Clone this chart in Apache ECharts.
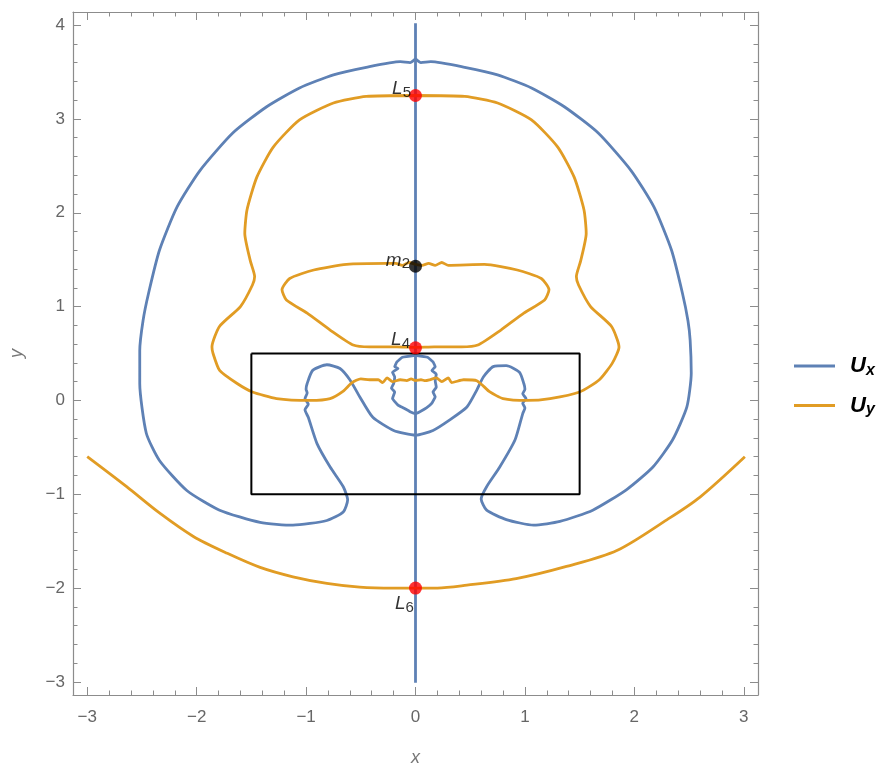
<!DOCTYPE html>
<html>
<head>
<meta charset="utf-8">
<script src="https://cdn.jsdelivr.net/npm/echarts@6/dist/echarts.min.js"></script>
<style>
html,body{margin:0;padding:0;background:#fff;}
#chart{width:882px;height:765px;}
</style>
</head>
<body>
<div id="chart"></div>
<script>
// ---- Data ----
const xRange = [-3.13, 3.13];
const yRange = [-3.14, 4.14];

// Ux: vertical line x = 0
const uxVertX = [0, 0];
const uxVertY = [-3.01, 4.02];

// Ux: big outer closed contour (left half top->bottom, then right half bottom->top)
const uxOuterX = [0, -0.05, -0.14, -0.45, -0.75, -1.06, -1.36, -1.67, -1.97, -2.18, -2.34, -2.44, -2.49, -2.52, -2.52, -2.46, -2.34, -2.09, -1.79, -1.42, -1.12, -0.81, -0.66, -0.62, -0.66, -0.78, -0.90, -0.98, -1.01, -0.98, -1.01, -0.99, -1.00, -0.99, -0.94, -0.81, -0.69, -0.60, -0.51, -0.39, -0.20, 0,
  0.16, 0.31, 0.47, 0.56, 0.62, 0.71, 0.83, 0.95, 0.99, 1.00, 0.98, 1.01, 0.98, 1.00, 0.98, 0.91, 0.77, 0.65, 0.60, 0.65, 0.83, 1.08, 1.32, 1.62, 1.93, 2.17, 2.35, 2.48, 2.52, 2.51, 2.49, 2.44, 2.34, 2.18, 1.97, 1.67, 1.36, 1.06, 0.75, 0.45, 0.14, 0.05, 0];
const uxOuterY = [3.64, 3.60, 3.61, 3.55, 3.47, 3.33, 3.13, 2.85, 2.45, 2.06, 1.60, 1.14, 0.85, 0.53, 0.18, -0.35, -0.64, -0.96, -1.17, -1.30, -1.33, -1.28, -1.19, -1.06, -0.92, -0.71, -0.46, -0.18, -0.10, -0.04, 0.02, 0.08, 0.12, 0.18, 0.32, 0.38, 0.34, 0.22, 0.04, -0.18, -0.32, -0.37,
  -0.32, -0.21, -0.07, 0.11, 0.25, 0.36, 0.37, 0.30, 0.18, 0.12, 0.07, 0.02, -0.03, -0.08, -0.14, -0.42, -0.71, -0.92, -1.05, -1.17, -1.27, -1.33, -1.29, -1.17, -0.95, -0.71, -0.42, -0.07, 0.29, 0.64, 0.85, 1.14, 1.60, 2.06, 2.45, 2.85, 3.13, 3.33, 3.47, 3.55, 3.61, 3.60, 3.64];

// Ux: small jagged inner loop around the axis
const uxInnerX = [0, -0.12, -0.17, -0.19, -0.16, -0.21, -0.19, -0.20, -0.22, -0.19, -0.21, -0.16, -0.11, -0.05, 0, 0.04, 0.10, 0.15, 0.18, 0.16, 0.19, 0.18, 0.19, 0.15, 0.18, 0.16, 0.11, 0];
const uxInnerY = [0.48, 0.46, 0.41, 0.36, 0.34, 0.30, 0.25, 0.18, 0.13, 0.09, 0.02, -0.05, -0.08, -0.12, -0.14, -0.12, -0.08, -0.03, 0.04, 0.09, 0.14, 0.21, 0.28, 0.32, 0.36, 0.41, 0.46, 0.48];

// Uy: outer "mushroom" closed contour through L5
const uyOuterX = [0, -0.45, -0.75, -1.06, -1.30, -1.45, -1.54, -1.56, -1.51, -1.47, -1.49, -1.60, -1.79, -1.86, -1.85, -1.79, -1.63, -1.49, -1.27, -0.96, -0.78, -0.66, -0.58, -0.50, -0.42, -0.34, -0.30, -0.26, -0.21, -0.14, -0.08, -0.04, 0, 0.05, 0.09, 0.13, 0.19, 0.24, 0.30, 0.33, 0.44, 0.56, 0.68, 0.80, 1.02, 1.23, 1.50, 1.68, 1.80, 1.86, 1.79, 1.60, 1.49, 1.47, 1.51, 1.56, 1.54, 1.45, 1.30, 1.06, 0.75, 0.45, 0];
const uyOuterY = [3.25, 3.24, 3.17, 2.99, 2.70, 2.38, 2.03, 1.78, 1.49, 1.32, 1.23, 1.00, 0.79, 0.57, 0.50, 0.32, 0.18, 0.09, 0.02, 0.00, 0.02, 0.10, 0.19, 0.23, 0.22, 0.22, 0.19, 0.24, 0.20, 0.22, 0.21, 0.23, 0.21, 0.22, 0.21, 0.22, 0.24, 0.20, 0.24, 0.19, 0.22, 0.21, 0.09, 0.02, 0.00, 0.02, 0.09, 0.22, 0.40, 0.57, 0.79, 1.00, 1.23, 1.32, 1.49, 1.78, 2.03, 2.38, 2.70, 2.99, 3.17, 3.24, 3.25];

// Uy: inner loop between m2 and L4
const uyInnerX = [0, -0.06, -0.12, -0.18, -0.26, -0.63, -0.93, -1.15, -1.22, -1.18, -0.99, -0.78, -0.57, -0.42, -0.17, 0, 0.17, 0.42, 0.57, 0.78, 0.99, 1.18, 1.22, 1.15, 0.93, 0.63, 0.30, 0.24, 0.18, 0.12, 0.06, 0];
const uyInnerY = [1.45, 1.47, 1.44, 1.46, 1.46, 1.45, 1.39, 1.30, 1.18, 1.07, 0.93, 0.75, 0.59, 0.57, 0.57, 0.565, 0.57, 0.57, 0.59, 0.75, 0.93, 1.07, 1.18, 1.30, 1.39, 1.45, 1.44, 1.47, 1.44, 1.46, 1.44, 1.45];

// Uy: lower open curve through L6
const uyLowerX = [-3.0, -2.64, -2.34, -2.03, -1.72, -1.42, -1.12, -0.81, -0.51, -0.20, 0, 0.20, 0.47, 0.92, 1.38, 1.84, 2.30, 2.60, 3.01];
const uyLowerY = [-0.60, -0.92, -1.20, -1.45, -1.63, -1.78, -1.88, -1.95, -1.99, -2.00, -2.00, -2.00, -1.97, -1.90, -1.77, -1.60, -1.27, -1.03, -0.60];

// Black rectangle
const rectX = [-1.5, 1.5, 1.5, -1.5, -1.5];
const rectY = [0.5, 0.5, -1.0, -1.0, 0.5];

// Labelled points
const ptName = ['L5', 'm2', 'L4', 'L6'];
const ptBase = ['L', 'm', 'L', 'L'];
const ptSub = ['5', '2', '4', '6'];
const ptX = [0, 0, 0, 0];
const ptY = [3.25, 1.43, 0.56, -2.0];
const ptColor = ['#FF0000', '#000000', '#FF0000', '#FF0000'];

const BLUE = '#5E81B5';
const ORANGE = '#E19C24';

function zip(xs, ys) { return xs.map((x, i) => [x, ys[i]]); }
function fmt(v) {
  if (Math.abs(v - Math.round(v)) > 1e-6) return '';
  const r = Math.round(v);
  return r < 0 ? '\u2212' + Math.abs(r) : String(r);
}

const FONT = 'Liberation Sans';
const axisLine = { show: true, onZero: false, lineStyle: { color: '#8c8c8c', width: 1.2 } };
const axisTick = { show: true, inside: true, length: 8, lineStyle: { color: '#8c8c8c', width: 1 } };
const minorTick = { show: true, splitNumber: 5, length: 4.5, lineStyle: { color: '#8c8c8c', width: 1 } };

function lineSeries(name, xs, ys, color, width, smooth) {
  return {
    type: 'line', name: name, data: zip(xs, ys),
    showSymbol: false, symbol: 'none', smooth: smooth, animation: false,
    lineStyle: { color: color, width: width }, itemStyle: { color: color },
    emphasis: { disabled: true }, silent: true
  };
}

const chart = echarts.init(document.getElementById('chart'), null, { renderer: 'canvas' });

const labelPos = [
  { position: 'left', distance: -2, offset: [0, -7] },
  { position: 'left', distance: -1, offset: [0, -6] },
  { position: 'left', distance: -1, offset: [0, -8] },
  { position: 'bottom', distance: 1, offset: [-11, -3] }
];

chart.setOption({
  animation: false,
  backgroundColor: '#ffffff',
  grid: { left: 73, right: 124, top: 12, bottom: 70, containLabel: false, outerBoundsMode: 'none' },
  xAxis: [
    {
      type: 'value', min: xRange[0], max: xRange[1], splitNumber: 7, position: 'bottom',
      axisLine: axisLine, axisTick: axisTick, minorTick: minorTick, splitLine: { show: false },
      axisLabel: { formatter: fmt, color: '#666', fontSize: 17, fontFamily: FONT, margin: 14 },
      name: 'x', nameLocation: 'middle', nameGap: 54,
      nameTextStyle: { color: '#777', fontSize: 18, fontStyle: 'italic', fontFamily: FONT }
    },
    {
      type: 'value', min: xRange[0], max: xRange[1], splitNumber: 7, position: 'top',
      axisLine: axisLine, axisTick: axisTick, minorTick: minorTick, splitLine: { show: false },
      axisLabel: { show: false }
    }
  ],
  yAxis: [
    {
      type: 'value', min: yRange[0], max: yRange[1], splitNumber: 7, position: 'left',
      axisLine: axisLine, axisTick: axisTick, minorTick: minorTick, splitLine: { show: false },
      axisLabel: { formatter: fmt, color: '#666', fontSize: 17, fontFamily: FONT, margin: 8 },
      name: 'y', nameLocation: 'middle', nameGap: 47, nameRotate: 90,
      nameTextStyle: { color: '#777', fontSize: 18, fontStyle: 'italic', fontFamily: FONT }
    },
    {
      type: 'value', min: yRange[0], max: yRange[1], splitNumber: 7, position: 'right',
      axisLine: axisLine, axisTick: axisTick, minorTick: minorTick, splitLine: { show: false },
      axisLabel: { show: false }
    }
  ],
  legend: {
    data: ['Ux', 'Uy'], orient: 'vertical', left: 789, top: 350, itemGap: 16,
    icon: 'rect', itemWidth: 41, itemHeight: 3, selectedMode: false,
    formatter: function (name) { return '{u|U}{s|' + name.slice(1) + '}'; },
    textStyle: {
      rich: {
        u: { fontSize: 22, fontWeight: 'bold', fontStyle: 'italic', fontFamily: FONT, color: '#000', padding: [0, 0, 0, 10] },
        s: { fontSize: 16, fontWeight: 'bold', fontStyle: 'italic', fontFamily: FONT, color: '#000', padding: [9, 0, 0, 0] }
      }
    }
  },
  series: [
    lineSeries('Ux', uxVertX, uxVertY, BLUE, 2.8, false),
    lineSeries('Ux', uxOuterX, uxOuterY, BLUE, 2.8, 0.2),
    lineSeries('Ux', uxInnerX, uxInnerY, BLUE, 2.8, 0.1),
    lineSeries('Uy', uyOuterX, uyOuterY, ORANGE, 2.8, 0.2),
    lineSeries('Uy', uyInnerX, uyInnerY, ORANGE, 2.8, 0.2),
    lineSeries('Uy', uyLowerX, uyLowerY, ORANGE, 2.8, 0.3),
    lineSeries('rect', rectX, rectY, '#000000', 2, false),
    {
      type: 'scatter', name: 'points', symbol: 'circle', symbolSize: 13, animation: false, silent: true,
      z: 5,
      data: ptX.map((x, i) => ({
        value: [x, ptY[i]],
        itemStyle: { color: ptColor[i] },
        label: Object.assign({
          show: true,
          formatter: '{a|' + ptBase[i] + '}{b|' + ptSub[i] + '}',
          rich: {
            a: { fontSize: 19, fontStyle: 'italic', fontFamily: FONT, color: '#000' },
            b: { fontSize: 15, fontFamily: FONT, color: '#000', padding: [8, 0, 0, 0] }
          }
        }, labelPos[i])
      }))
    }
  ]
});
</script>
</body>
</html>
